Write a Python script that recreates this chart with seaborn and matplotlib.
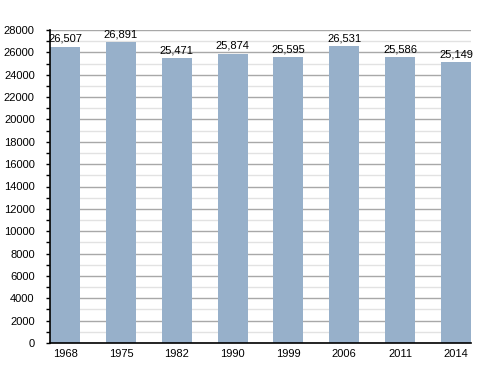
import numpy as np
import pandas as pd
import seaborn as sns
import matplotlib.pyplot as plt
from matplotlib.ticker import MultipleLocator

years = ["1968", "1975", "1982", "1990", "1999", "2006", "2011", "2014"]
population = [26507, 26891, 25471, 25874, 25595, 26531, 25586, 25149]

df = pd.DataFrame({"year": years, "pop": population})

sns.set_style("white")
plt.rcParams["font.family"] = ["Liberation Sans", "DejaVu Sans"]

fig = plt.figure(figsize=(5, 3.73), dpi=100)
ax = fig.add_axes([0.1, 0.0804, 0.842, 0.8392])

sns.barplot(data=df, x="year", y="pop", color="#97b0ca", saturation=1,
            width=0.54, ax=ax, linewidth=0, edgecolor="none")

ax.set_ylim(0, 28000)
ax.set_xlim(-0.27, 7.27)
ax.yaxis.set_major_locator(MultipleLocator(2000))
ax.yaxis.set_minor_locator(MultipleLocator(1000))
ax.grid(which="major", axis="y", color="#a8a8a8", linewidth=1)
ax.grid(which="minor", axis="y", color="#e2e2e2", linewidth=1)
ax.set_axisbelow(True)

for s in ["top", "right"]:
    ax.spines[s].set_visible(False)
for s in ["left", "bottom"]:
    ax.spines[s].set_color("black")
    ax.spines[s].set_linewidth(1.2)
    ax.spines[s].set_zorder(5)

ax.tick_params(axis="y", which="major", left=True, length=3, width=1,
               color="black", labelsize=8, pad=8, labelcolor="black")
ax.tick_params(axis="y", which="minor", left=True, length=3, width=1, color="black")
ax.tick_params(axis="x", bottom=False, labelsize=8, pad=1, labelcolor="black")
ax.set_xlabel("")
ax.set_ylabel("")

for i, v in enumerate(population):
    ax.text(i, v + 250, f"{v:,}", ha="center", va="bottom", fontsize=8,
            color="black")

fig.savefig("out.png", dpi=100)
